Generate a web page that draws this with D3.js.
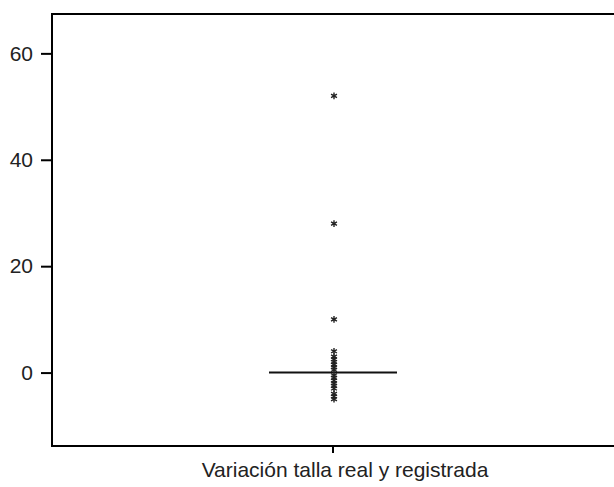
<!DOCTYPE html>
<html>
<head>
<meta charset="utf-8">
<script src="https://cdn.jsdelivr.net/npm/d3@7"></script>
<style>
  body { margin: 0; background: #fff; }
  svg { display: block; font-family: "Liberation Sans", Arial, sans-serif; }
</style>
</head>
<body>
<svg id="chart" width="614" height="487"></svg>
<script>
// Box plot of the difference between real and recorded height
const category = "Variación talla real y registrada";
const yTicks = [0, 20, 40, 60];
// Quartiles collapse to a single line at the median
const boxStats = { q1: 0, median: 0, q3: 0 };
// Extreme values drawn as asterisks
const extremes = [52, 28, 10, 4, 3, 2.5, 2, 1.5, 1, 0.5, -0.5, -1, -1.5, -2, -2.5, -3, -4, -4.5, -5];

const svg = d3.select("#chart");
const margin = { left: 52, top: 14, right: 0, bottom: 41 };
const W = 614, H = 487;

const y = d3.scaleLinear()
  .domain([-13.8, 67.4])
  .range([H - margin.bottom, margin.top]);

const x = d3.scaleBand()
  .domain([category])
  .range([margin.left, W - margin.right])
  .paddingInner(0).paddingOuter(0);

const cx = x(category) + x.bandwidth() / 2;

// Frame (open on the right, running past the edge)
svg.append("path")
  .attr("d", `M${W + 5},${margin.top}H${margin.left}V${H - margin.bottom}H${W + 5}`)
  .attr("fill", "none").attr("stroke", "#000").attr("stroke-width", 2);

// Y axis
const yAxis = svg.append("g")
  .attr("transform", `translate(${margin.left},0)`)
  .call(d3.axisLeft(y).tickValues(yTicks).tickSize(11).tickPadding(8).tickFormat(d3.format("d")));
yAxis.select(".domain").remove();
yAxis.selectAll(".tick line").attr("stroke", "#000").attr("stroke-width", 2);
yAxis.selectAll(".tick text").attr("font-size", 21).attr("fill", "#222")
  .attr("font-family", "Liberation Sans, Arial, sans-serif");

// X axis
const xAxis = svg.append("g")
  .attr("transform", `translate(0,${H - margin.bottom})`)
  .call(d3.axisBottom(x).tickSize(7).tickPadding(9));
xAxis.select(".domain").remove();
xAxis.selectAll(".tick line").attr("stroke", "#000").attr("stroke-width", 2);
xAxis.selectAll(".tick text").attr("font-size", 21).attr("fill", "#222")
  .attr("dx", 12)
  .attr("font-family", "Liberation Sans, Arial, sans-serif");

// Median line
const halfBox = 64;
svg.append("line")
  .attr("x1", cx - halfBox).attr("x2", cx + halfBox)
  .attr("y1", y(boxStats.median)).attr("y2", y(boxStats.median))
  .attr("stroke", "#111").attr("stroke-width", 2);

// Extreme values
const star = d3.symbol().type(d3.symbolAsterisk).size(32);
svg.append("g").selectAll("path")
  .data(extremes)
  .join("path")
  .attr("d", star)
  .attr("transform", d => `translate(${cx + 1},${y(d)})`)
  .attr("fill", "none")
  .attr("stroke", "#222")
  .attr("stroke-width", 1.4);
</script>
</body>
</html>
